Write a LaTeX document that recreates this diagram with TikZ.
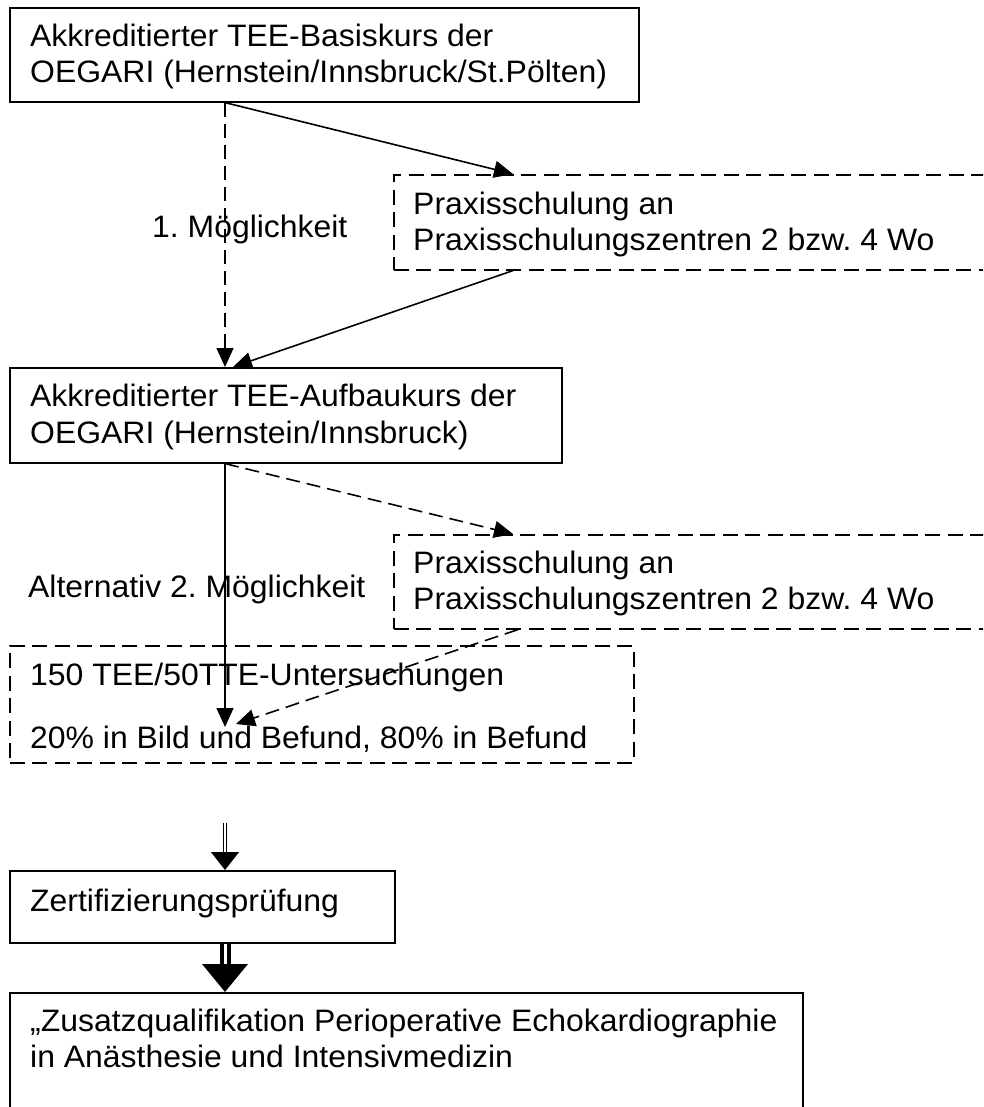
\documentclass[tikz,border=0pt]{standalone}
\usepackage{fontspec}
\setmainfont{Liberation Sans}[FakeStretch=1.03]
\usetikzlibrary{arrows.meta,calc}
\newcommand{\mystrut}{\rule{0pt}{30pt}}
\frenchspacing
\tikzset{
  box/.style={draw, line width=1.6pt, anchor=north west, inner sep=0pt},
  dbox/.style={box, dash pattern=on 15pt off 7.5pt},
  txt/.style={anchor=north west, inner sep=0pt, align=left, font=\fontsize{31}{36.5}\selectfont},
  arr/.style={line width=1.6pt, -{Triangle[length=19pt,width=17pt]}},
  darr/.style={arr, dash pattern=on 14pt off 7pt},
  dblthin/.style={double, double distance=2pt, line width=1pt, -{Triangle[length=18pt,width=28pt]}},
  dblthick/.style={double, double distance=3pt, line width=4pt, -{Triangle[length=28pt,width=45pt]}},
}
\begin{document}
\begin{tikzpicture}[x=1pt, y=-1pt]
\useasboundingbox (0,0) rectangle (983,1107);
\fill[white] (0,0) rectangle (983,1107);
\clip (0,0) rectangle (983,1107);

% boxes
\node[box, minimum width=629pt, minimum height=94pt] (b1) at (9,7) {};
\node[dbox, minimum width=620pt, minimum height=95pt] (p1) at (393,174) {};
\node[box, minimum width=552pt, minimum height=95pt] (b2) at (9,367) {};
\node[dbox, minimum width=620pt, minimum height=94pt] (p2) at (393,534) {};
\node[dbox, minimum width=624pt, minimum height=117pt] (b3) at (9,645) {};
\node[box, minimum width=385pt, minimum height=72pt] (zert) at (9,870) {};
\node[box, minimum width=793pt, minimum height=140pt] (fin) at (9,992) {};

% texts
\node[txt] (b1t) at (30,16) {\mystrut Akkreditierter TEE-Basiskurs der\\OEGARI (Hernstein/Innsbruck/St.Pölten)};
\node[txt] (p1t) at (413,184) {\mystrut Praxisschulung an\\Praxisschulungszentren 2 bzw. 4 Wo};
\node[txt] (b2t) at (30,376.5) {\mystrut Akkreditierter TEE-Aufbaukurs der\\OEGARI (Hernstein/Innsbruck)};
\node[txt] (p2t) at (413,543) {\mystrut Praxisschulung an\\Praxisschulungszentren 2 bzw. 4 Wo};
\node[txt] (b3t) at (30,655) {\mystrut 150 TEE/50TTE-Untersuchungen\\[26.5pt]20\% in Bild und Befund, 80\% in Befund};
\node[txt] (zt) at (30,881) {\mystrut Zertifizierungsprüfung};
\node[txt] (ft) at (30,1001) {\mystrut „Zusatzqualifikation Perioperative Echokardiographie\\in Anästhesie und Intensivmedizin};

% labels
\node[txt] (l1) at (152,207) {\mystrut 1. Möglichkeit};
\node[txt] (l2) at (28,567) {\mystrut Alternativ 2. Möglichkeit};

% connectors
\draw[darr] ([xshift=216pt]b1.south west) -- ([xshift=216pt]b2.north west);
\draw[arr] ([xshift=216pt]b1.south west) -- ([xshift=120pt]p1.north west);
\draw[arr] ([xshift=120pt]p1.south west) -- ([xshift=224pt]b2.north west);
\draw[darr] ([xshift=216pt]b2.south west) -- ([xshift=120pt]p2.north west);
\draw[arr] ([xshift=216pt]b2.south west) -- ([xshift=216pt,yshift=-82pt]b3.north west);
\draw[darr] ([xshift=125pt]p2.south west) -- ([xshift=227pt,yshift=-79pt]b3.north west);
\coordinate (c1) at (225,823);
\draw[dblthin] (c1) -- ([xshift=216pt]zert.north west);
\draw[dblthick] ([xshift=216pt]zert.south west) -- ([xshift=216pt]fin.north west);
\end{tikzpicture}
\end{document}
